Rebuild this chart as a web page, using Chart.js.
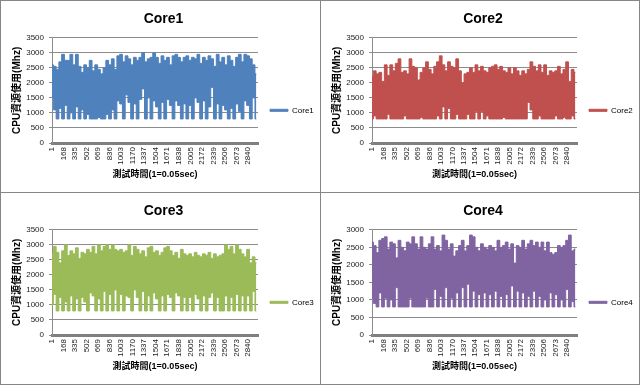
<!DOCTYPE html>
<html>
<head>
<meta charset="utf-8">
<script src="https://cdn.jsdelivr.net/npm/chart.js@4/dist/chart.umd.min.js"></script>
<style>
body { margin: 0; background: #fff; }
.panel { position: absolute; box-sizing: border-box; border: 1px solid #868686; background: #fff; }
canvas { display: block; }
</style>
</head>
<body>
<div class="panel" style="left:0;top:0;width:321px;height:193px"><canvas id="c1" width="319" height="191"></canvas></div>
<div class="panel" style="left:320px;top:0;width:320px;height:193px"><canvas id="c2" width="318" height="191"></canvas></div>
<div class="panel" style="left:0;top:192px;width:321px;height:193px"><canvas id="c3" width="319" height="191"></canvas></div>
<div class="panel" style="left:320px;top:192px;width:320px;height:193px"><canvas id="c4" width="318" height="191"></canvas></div>
<script>
// tick labels on the time axis
var xTicks = [1, 168, 335, 502, 669, 836, 1003, 1170, 1337, 1504, 1671, 1838, 2005, 2172, 2339, 2506, 2673, 2840]
var xMax = 2985
// one reading every 40 samples: highest and lowest value seen around it
var sampleStep = 40

var core1High = [2600, 2550, 2450, 2700, 2950, 2750, 2750, 2950, 2600, 2950, 2550, 2350, 2600, 2500, 2750,
  2400, 2600, 2450, 2300, 2500, 2750, 2600, 2800, 2450, 2900, 2950, 2700, 2900, 2800, 2600,
  2850, 2750, 2850, 3000, 2700, 2800, 2850, 3000, 2850, 2650, 2900, 2750, 2850, 2600, 2900,
  2950, 2850, 2700, 2850, 2900, 2750, 2850, 2800, 2950, 2650, 2850, 2750, 2900, 2800, 2550,
  2950, 2700, 2850, 2600, 2900, 2750, 2550, 2850, 2950, 2700, 2950, 2900, 2800, 2600, 2300]
var core1Low = [1500, 1100, 800, 1150, 800, 1250, 800, 1000, 800, 1200, 800, 1100, 800, 950, 800,
  800, 800, 850, 800, 800, 950, 800, 1100, 800, 1400, 1300, 800, 1600, 1350, 800,
  1300, 800, 1450, 1800, 800, 1500, 800, 1400, 1200, 800, 1350, 800, 1450, 1250, 800,
  1400, 1250, 800, 1300, 800, 1250, 800, 1500, 1350, 800, 1400, 800, 1200, 1850, 800,
  1300, 800, 1250, 1100, 800, 1150, 800, 1300, 1050, 800, 1400, 1250, 800, 1500, 800]

var core2High = [2200, 2400, 2300, 2350, 2050, 2600, 2250, 2600, 2400, 2650, 2800, 2350, 2400, 2300, 2800,
  2550, 2500, 2100, 2350, 2500, 2700, 2450, 2300, 2550, 2700, 2900, 2600, 2400, 2700, 2550,
  2500, 2800, 2400, 2000, 2300, 2350, 2500, 2350, 2600, 2400, 2550, 2400, 2350, 2500, 2550,
  2600, 2450, 2550, 2400, 2350, 2500, 2300, 2500, 2400, 2250, 2400, 2300, 2450, 2700, 2550,
  2400, 2600, 2350, 2600, 2250, 2400, 2350, 2400, 2550, 2300, 2450, 2700, 2050, 2450, 2350]
var core2Low = [800, 900, 800, 800, 800, 800, 950, 800, 800, 800, 800, 800, 900, 800, 800,
  800, 800, 800, 850, 800, 800, 800, 800, 800, 900, 800, 1200, 800, 1150, 800,
  800, 950, 800, 800, 800, 950, 800, 800, 1050, 800, 1050, 800, 900, 800, 800,
  800, 800, 800, 850, 800, 800, 800, 800, 800, 800, 800, 800, 1350, 1100, 800,
  800, 900, 800, 800, 800, 800, 800, 900, 800, 800, 850, 800, 800, 900, 800]

var core3High = [2700, 2950, 2750, 2400, 2800, 3000, 2650, 2800, 2700, 2900, 2550, 2750, 2700, 2850, 2750,
  2950, 2700, 3000, 2800, 2950, 3000, 2850, 3000, 2850, 2800, 2850, 2750, 2800, 3000, 2650,
  2950, 2850, 2700, 2800, 2600, 2900, 2950, 2750, 2800, 2650, 2750, 2900, 2950, 2800, 2650,
  2750, 2550, 2850, 2700, 2650, 2700, 2600, 2750, 2650, 2600, 2700, 2650, 2750, 2550, 2700,
  2600, 2650, 2700, 3000, 2850, 2950, 2700, 3000, 2850, 2700, 2600, 2850, 2400, 2600, 2400]
var core3Low = [1000, 1350, 800, 1250, 800, 1100, 800, 1300, 800, 1200, 800, 1250, 1100, 800, 1400,
  1300, 800, 1200, 800, 1450, 800, 1350, 800, 1500, 800, 1350, 800, 1300, 1250, 800,
  1500, 1250, 800, 1450, 800, 1300, 800, 1400, 1200, 800, 1300, 800, 1350, 1250, 800,
  1400, 1300, 800, 1250, 800, 1250, 800, 1350, 1200, 800, 1300, 800, 1250, 1400, 800,
  1250, 800, 800, 1300, 800, 1250, 800, 1350, 800, 1300, 800, 1300, 800, 1450, 800]

var core4High = [2650, 2550, 2350, 2700, 2750, 2800, 2450, 2650, 2600, 2200, 2700, 2500, 2400, 2650, 2600,
  2800, 2600, 2450, 2800, 2500, 2450, 2600, 2800, 2450, 2550, 2400, 2850, 2700, 2450, 2600,
  2250, 2400, 2550, 2700, 2400, 2550, 2850, 2800, 2500, 2400, 2600, 2500, 2450, 2550, 2500,
  2400, 2700, 2500, 2550, 2650, 2450, 2600, 2050, 2550, 2500, 2700, 2450, 2600, 2700, 2550,
  2650, 2500, 2650, 2400, 2650, 2350, 2300, 2350, 2550, 2500, 2550, 2700, 2850, 2400, 2450]
var core4Low = [1050, 900, 800, 1200, 800, 1050, 800, 1000, 800, 1350, 800, 800, 800, 800, 1050,
  800, 800, 800, 800, 800, 1050, 800, 800, 1300, 800, 1100, 800, 1350, 800, 1050,
  800, 1200, 800, 1350, 800, 1450, 800, 1250, 800, 1150, 800, 1200, 800, 1150, 800,
  1250, 800, 1100, 800, 1150, 800, 1400, 800, 1250, 800, 1200, 800, 1100, 800, 1250,
  800, 1100, 800, 1000, 800, 1200, 800, 1150, 800, 1000, 800, 1300, 800, 950, 800]

Chart.defaults.font.family = '"Liberation Sans", "Noto Sans CJK TC", sans-serif'
Chart.defaults.color = '#000'

function toPoints(vals) {
  return vals.map(function (v, i) { return { x: 1 + i * sampleStep, y: v } })
}

function makeChart(id, name, color, high, low, yMax) {
  var ctx = document.getElementById(id).getContext('2d')
  return new Chart(ctx, {
    type: 'line',
    data: {
      datasets: [{
        label: name,
        data: toPoints(high),
        borderColor: color,
        backgroundColor: color,
        borderWidth: 1,
        pointRadius: 0,
        stepped: 'middle',
        fill: '+1'
      }, {
        label: name + ' low',
        data: toPoints(low),
        borderColor: color,
        backgroundColor: color,
        borderWidth: 1,
        pointRadius: 0,
        stepped: 'middle',
        fill: false
      }]
    },
    options: {
      responsive: false,
      animation: false,
      events: [],
      layout: { padding: { left: 6, right: 0, top: 0, bottom: 0 } },
      plugins: {
        title: {
          display: true,
          text: name,
          font: { size: 14, weight: 'bold' },
          color: '#000',
          padding: { top: 10, bottom: 10 }
        },
        legend: {
          position: 'right',
          maxWidth: 62,
          title: { display: true, text: ' ', font: { size: 8 }, padding: { top: 9, bottom: 9 } },
          labels: {
            boxWidth: 18,
            boxHeight: 2,
            padding: 12,
            font: { size: 8 },
            filter: function (item) { return item.datasetIndex === 0 }
          }
        },
        tooltip: { enabled: false }
      },
      scales: {
        x: {
          type: 'linear',
          min: 1,
          max: xMax,
          afterBuildTicks: function (scale) {
            scale.ticks = xTicks.map(function (v) { return { value: v } })
          },
          afterFit: function (scale) { scale.height = 49 },
          grid: { display: false, drawTicks: false },
          border: { display: true, color: '#7f7f7f', width: 3 },
          ticks: {
            autoSkip: false,
            maxRotation: 90,
            minRotation: 90,
            padding: 4,
            font: { size: 8 },
            color: '#222',
            callback: function (v) { return String(v) }
          },
          title: {
            display: true,
            text: '測試時間(1=0.05sec)',
            font: { size: 9, weight: 'bold' },
            padding: { top: 0, bottom: 12 }
          }
        },
        y: {
          min: 0,
          max: yMax,
          afterFit: function (scale) { scale.width = 45 },
          grid: { color: '#8c8c8c', tickLength: 3 },
          border: { display: true, color: '#8c8c8c' },
          ticks: {
            stepSize: 500,
            padding: 5,
            font: { size: 8 },
            color: '#222',
            callback: function (v) { return String(v) }
          },
          title: {
            display: true,
            text: 'CPU資源使用(Mhz)',
            font: { size: 10, weight: 'bold' },
            padding: { top: 4, bottom: 0 }
          }
        }
      }
    }
  })
}

makeChart('c1', 'Core1', '#4f81bd', core1High, core1Low, 3500)
makeChart('c2', 'Core2', '#c0504d', core2High, core2Low, 3500)
makeChart('c3', 'Core3', '#9bbb59', core3High, core3Low, 3500)
makeChart('c4', 'Core4', '#8064a2', core4High, core4Low, 3000)
</script>
</body>
</html>
